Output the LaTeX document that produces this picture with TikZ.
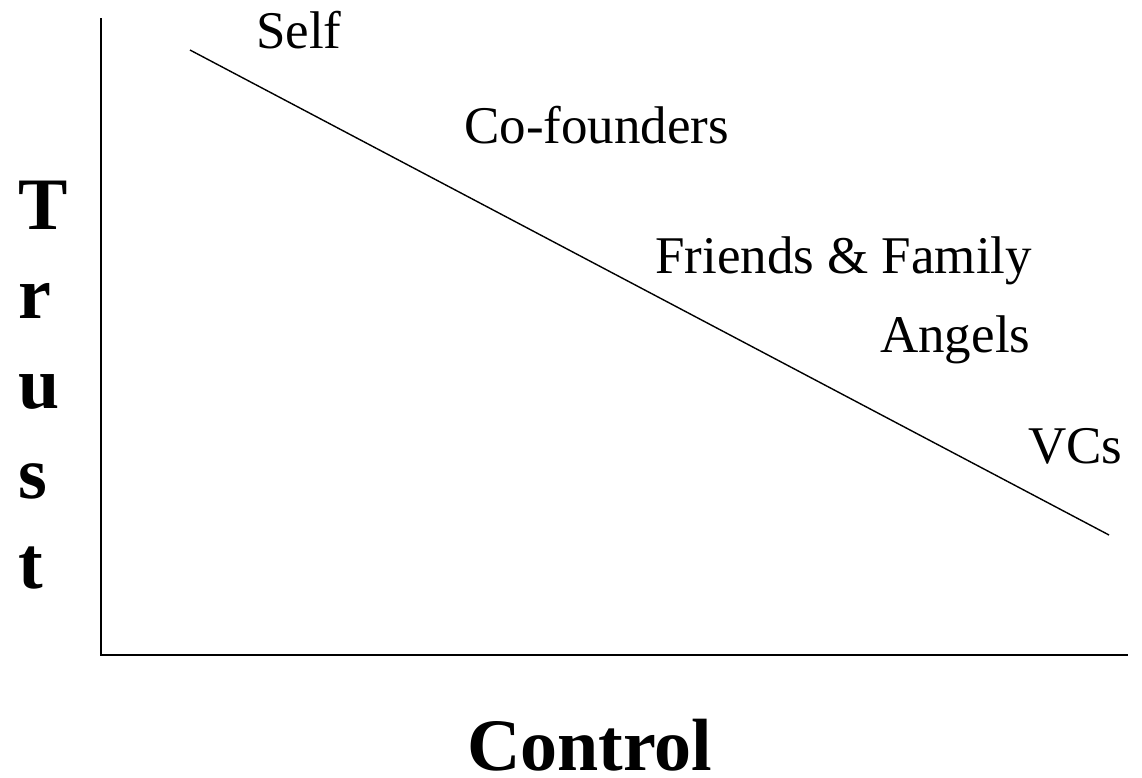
\documentclass[tikz,border=0pt]{standalone}
\usepackage{fontspec}
\setmainfont{Liberation Serif}
\tikzset{
  lbl/.style={anchor=base west, inner sep=0pt, font=\fontsize{53}{60}\selectfont},
  big/.style={anchor=base west, inner sep=0pt, font=\fontsize{74}{84}\selectfont\bfseries},
  axis/.style={line width=1.6pt},
  trend/.style={line width=1.4pt}
}
\begin{document}
\begin{tikzpicture}[x=1pt,y=-1pt]
\useasboundingbox (0,0) rectangle (1142,777);
\coordinate (top) at (101,18);
\coordinate (origin) at (101,655);
\coordinate (right) at (1128,655);
\coordinate (s) at (190,50);
\coordinate (e) at (1109,535);
\draw[axis] (top) -- (origin) -- (right);
\draw[trend] (s) -- (e);
\node[lbl] (self) at (256,48) {Self};
\node[lbl] (cof) at (464,143) {Co-founders};
\node[lbl] (ff) at (655,273) {Friends \& Family};
\node[lbl] (ang) at (880,352) {Angels};
\node[lbl] (vc) at (1028,463) {VCs};
\node[big] (t1) at (18,229) {T};
\node[big] (t2) at (18,318) {r};
\node[big] (t3) at (18,408) {u};
\node[big] (t4) at (18,498) {s};
\node[big] (t5) at (18,588) {t};
\node[big, text depth=0pt] (ctl) at (467,770) {Control};
\end{tikzpicture}
\end{document}
